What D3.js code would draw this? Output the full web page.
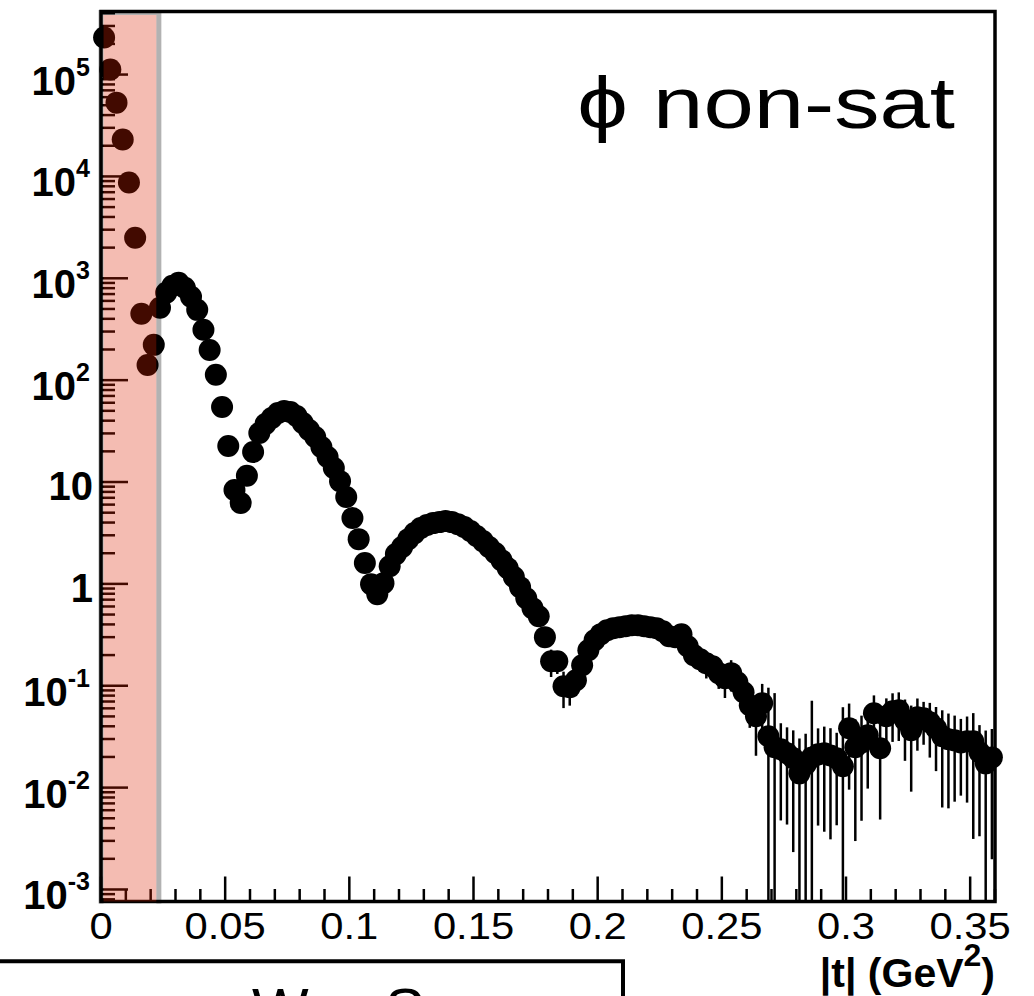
<!DOCTYPE html>
<html>
<head>
<meta charset="utf-8">
<script src="https://cdn.jsdelivr.net/npm/d3@7"></script>
<style>
  html, body { margin: 0; padding: 0; background: #fff; }
  svg { display: block; }
</style>
</head>
<body>
<script>
// ---- histogram layout: |t| bins ----
const binStart = 0;
const binWidth = 0.0025;
const nBins = 144;

// dN/dt per bin (phi, non-saturated)
const counts = [
  231000, 112000, 53000, 23000, 8700, 2500, 448, 141, 222, 513,
  720, 844, 903, 806, 658, 490, 312, 198, 113, 54.6,
  22.6, 8.34, 6.22, 11.5, 19.7, 30.3, 37.1, 42.6, 47.6, 49.9,
  48.7, 44.5, 38.0, 32.4, 27.7, 22.1, 17.6, 13.7, 10.2, 7.12,
  4.43, 2.75, 1.60, 0.994, 0.793, 1.017, 1.49, 1.96, 2.30, 2.75,
  3.15, 3.53, 3.78, 3.95, 4.04, 4.14, 4.04, 3.86, 3.61, 3.30,
  2.95, 2.63, 2.30, 2.01, 1.71, 1.43, 1.17, 0.929, 0.724, 0.578,
  0.482, 0.300, 0.174, 0.174, 0.0989, 0.0966, 0.113, 0.159, 0.223, 0.280,
  0.321, 0.351, 0.367, 0.376, 0.384, 0.393, 0.393, 0.384, 0.376, 0.367,
  0.343, 0.307, 0.300, 0.320, 0.244, 0.199, 0.182, 0.166, 0.155, 0.133,
  0.1185, 0.133, 0.108, 0.0863, 0.0643, 0.0501, 0.0673, 0.0319, 0.0249, 0.0238,
  0.0217, 0.0194, 0.0138, 0.0169, 0.0198, 0.0212, 0.0217, 0.0207, 0.0194, 0.0162,
  0.0382, 0.0249, 0.0278, 0.0326, 0.0536, 0.0243, 0.0501, 0.0562, 0.0574, 0.0458,
  0.0365, 0.0490, 0.0479, 0.0438, 0.0382, 0.0319, 0.0298, 0.0291, 0.0278, 0.0285,
  0.0285, 0.0222, 0.0173, 0.0198
];

// statistical uncertainty of each bin, as a fraction of its content
const relErr = [
  0.01, 0.01, 0.01, 0.01, 0.01, 0.01, 0.01, 0.01, 0.01, 0.01,
  0.01, 0.01, 0.01, 0.01, 0.01, 0.01, 0.01, 0.01, 0.01, 0.01,
  0.01, 0.02, 0.02, 0.02, 0.02, 0.02, 0.02, 0.02, 0.02, 0.02,
  0.02, 0.02, 0.02, 0.02, 0.02, 0.02, 0.02, 0.02, 0.02, 0.02,
  0.02, 0.02, 0.02, 0.02, 0.02, 0.04, 0.04, 0.04, 0.04, 0.04,
  0.04, 0.04, 0.04, 0.04, 0.04, 0.04, 0.04, 0.04, 0.04, 0.04,
  0.04, 0.04, 0.04, 0.04, 0.04, 0.04, 0.04, 0.04, 0.04, 0.04,
  0.04, 0.2, 0.3, 0.25, 0.39, 0.34, 0.3, 0.2, 0.2, 0.18,
  0.15, 0.12, 0.12, 0.12, 0.12, 0.12, 0.12, 0.12, 0.12, 0.12,
  0.15, 0.15, 0.15, 0.15, 0.2, 0.22, 0.25, 0.29, 0.25, 0.3,
  0.36, 0.34, 0.3, 0.35, 0.4, 0.59, 0.55, 2.0, 2.4, 0.8,
  0.8, 0.88, 1.2, 1.0, 2.6, 0.8, 0.83, 0.85, 0.78, 2.8,
  0.75, 0.88, 0.83, 0.7, 0.5, 0.8, 0.5, 0.5, 0.5, 0.6,
  0.75, 0.53, 0.45, 0.55, 0.62, 0.8, 0.79, 0.75, 0.7, 0.75,
  0.89, 0.85, 1.1, 0.9
];

// axes
const xRange = [0, 0.36];
const yRange = [7.62e-4, 4.16e5];
const xMajorTicks = [0, 0.05, 0.1, 0.15, 0.2, 0.25, 0.3, 0.35];
const xTickLabels = ["0", "0.05", "0.1", "0.15", "0.2", "0.25", "0.3", "0.35"];
const yMajorTicks = [1e-3, 1e-2, 1e-1, 1, 10, 1e2, 1e3, 1e4, 1e5];
const yTickLabels = [
  ["10", "-3"], ["10", "-2"], ["10", "-1"], ["1", ""], ["10", ""],
  ["10", "2"], ["10", "3"], ["10", "4"], ["10", "5"]
];

// shaded |t| region
const bandRange = [0, 0.0233];

// texts
const panelLabel = "\u03D5 non-sat";
const xTitle = ["|t| (GeV", "2", ")"];
const lowerPanelText = [["W", 252], ["S", 385]];

// ---------------------------------------------------------------
const W = 1034, H = 996;
const frame = { left: 101, right: 995, top: 11.5, bottom: 901.5 };
const FONT = "'Liberation Sans', Arial, Helvetica, sans-serif";

const svg = d3.select("body").append("svg")
  .attr("width", W).attr("height", H)
  .attr("viewBox", `0 0 ${W} ${H}`);

const x = d3.scaleLinear().domain(xRange).range([frame.left, frame.right]);
const y = d3.scaleLog().domain(yRange).range([frame.bottom, frame.top]);

const bins = counts.map((v, i) => ({
  t: binStart + (i + 0.5) * binWidth,
  v: v,
  e: v * relErr[i]
}));

// ticks (drawn inside the frame, ROOT style)
const gTicks = svg.append("g").attr("stroke", "#000").attr("stroke-width", 2.5);

const xMinor = d3.range(0, xRange[1] + 1e-9, 0.01)
  .filter(t => !xMajorTicks.some(m => Math.abs(m - t) < 1e-9));
gTicks.selectAll("line.xmaj").data(xMajorTicks).join("line")
  .attr("class", "xmaj")
  .attr("x1", d => x(d)).attr("x2", d => x(d))
  .attr("y1", frame.bottom).attr("y2", frame.bottom - 25);
gTicks.selectAll("line.xmin").data(xMinor).join("line")
  .attr("class", "xmin")
  .attr("x1", d => x(d)).attr("x2", d => x(d))
  .attr("y1", frame.bottom).attr("y2", frame.bottom - 12.5);

const yMinor = [];
for (let p = -4; p <= 5; p++) {
  for (let m = 2; m <= 9; m++) {
    const v = m * Math.pow(10, p);
    if (v > yRange[0] && v < yRange[1]) yMinor.push(v);
  }
}
gTicks.selectAll("line.ymaj").data(yMajorTicks).join("line")
  .attr("class", "ymaj")
  .attr("x1", frame.left).attr("x2", frame.left + 27)
  .attr("y1", d => y(d)).attr("y2", d => y(d));
gTicks.selectAll("line.ymin").data(yMinor).join("line")
  .attr("class", "ymin")
  .attr("x1", frame.left).attr("x2", frame.left + 14)
  .attr("y1", d => y(d)).attr("y2", d => y(d));

// frame
svg.append("rect")
  .attr("x", frame.left).attr("y", frame.top)
  .attr("width", frame.right - frame.left)
  .attr("height", frame.bottom - frame.top)
  .attr("fill", "none").attr("stroke", "#000").attr("stroke-width", 3.5);

// x tick labels
svg.append("g").selectAll("text").data(xMajorTicks).join("text")
  .attr("transform", d => `translate(${x(d)},938.5) scale(1.16,1)`)
  .attr("text-anchor", "middle")
  .attr("font-family", FONT).attr("font-size", 36)
  .attr("fill", "#000")
  .text((d, i) => xTickLabels[i]);

// y tick labels (10 with superscript exponent)
const yl = svg.append("g").attr("font-family", FONT).attr("font-weight", "bold").attr("fill", "#000");
yMajorTicks.forEach((d, i) => {
  const [base, exp] = yTickLabels[i];
  const t = yl.append("text").attr("text-anchor", "end").attr("font-size", 40);
  if (exp) {
    t.attr("x", 90).attr("y", y(d) + 20);
    t.append("tspan").text(base);
    t.append("tspan").attr("font-size", 25).attr("dy", -19).text(exp);
  } else {
    t.attr("x", 93).attr("y", y(d) + 18).text(base);
  }
});

// error bars
svg.append("g").attr("stroke", "#000").attr("stroke-width", 2.5)
  .selectAll("line").data(bins).join("line")
  .attr("x1", d => x(d.t)).attr("x2", d => x(d.t))
  .attr("y1", d => y(Math.max(d.v - d.e, yRange[0])))
  .attr("y2", d => y(Math.min(d.v + d.e, yRange[1])));

// markers
svg.append("g").attr("fill", "#000")
  .selectAll("circle").data(bins).join("circle")
  .attr("cx", d => x(d.t)).attr("cy", d => y(d.v)).attr("r", 11);

// shaded region, translucent over the markers
const bx0 = x(bandRange[0]), bx1 = x(bandRange[1]);
const bw = 5;
svg.append("rect")
  .attr("x", bx0 + bw / 2).attr("y", frame.top + bw / 2 + 1)
  .attr("width", bx1 - bx0 - bw).attr("height", frame.bottom - frame.top - bw / 2 - 1)
  .attr("fill", "rgb(220,33,0)").attr("fill-opacity", 0.3);
svg.append("path")
  .attr("d", `M${bx0},${frame.bottom + 2} V${frame.top + 1} H${bx1} V${frame.bottom + 2}`)
  .attr("fill", "none").attr("stroke", "#000").attr("stroke-opacity", 0.3)
  .attr("stroke-width", bw);

// panel label
svg.append("text")
  .attr("transform", "translate(955,128) scale(1.24,1)")
  .attr("text-anchor", "end")
  .attr("font-family", FONT).attr("font-size", 73).attr("fill", "#000")
  .text(panelLabel);

// x-axis title
const xt = svg.append("text")
  .attr("x", 995).attr("y", 987)
  .attr("text-anchor", "end")
  .attr("font-family", FONT).attr("font-weight", "bold").attr("font-size", 41)
  .attr("fill", "#000");
xt.append("tspan").text(xTitle[0]);
xt.append("tspan").attr("font-size", 32).attr("dy", -21).text(xTitle[1]);
xt.append("tspan").attr("dy", 21).text(xTitle[2]);

// neighbouring panel below (box edge and the top of its text)
svg.append("path")
  .attr("d", "M-5,961.3 H623 V1000")
  .attr("fill", "none").attr("stroke", "#000").attr("stroke-width", 4);
svg.append("g").selectAll("text").data(lowerPanelText).join("text")
  .attr("x", d => d[1]).attr("y", 1030)
  .attr("font-family", FONT).attr("font-size", 60).attr("fill", "#000")
  .text(d => d[0]);
</script>
</body>
</html>
